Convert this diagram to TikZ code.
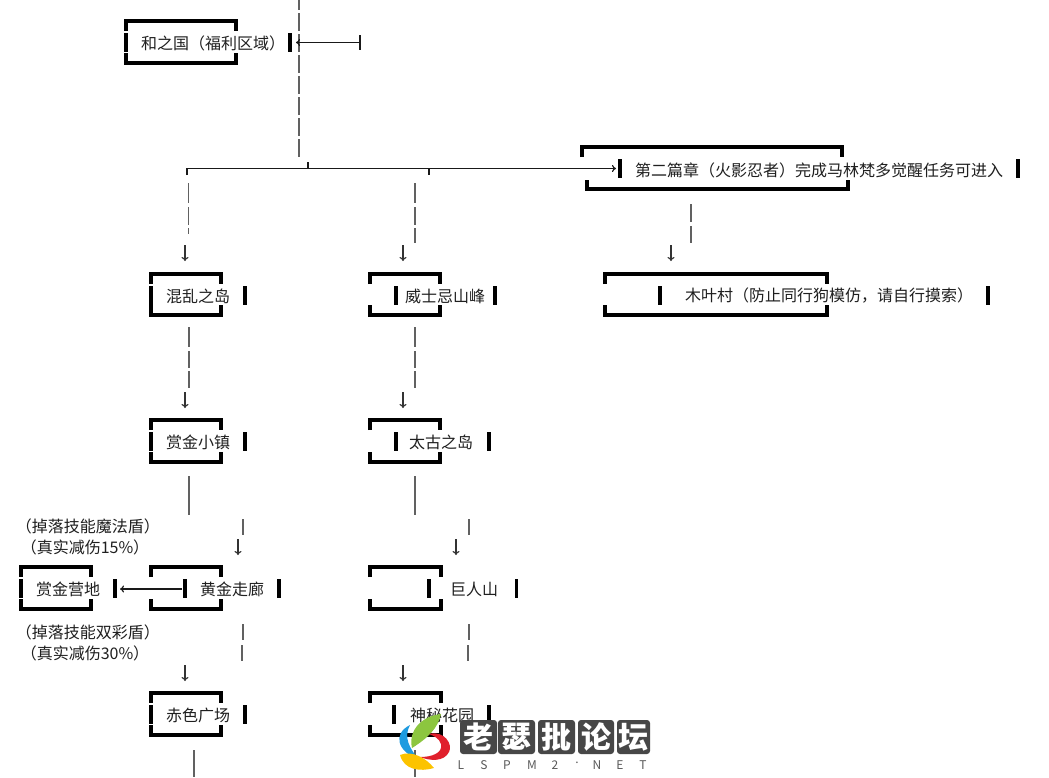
\documentclass[tikz,border=0pt]{standalone}
\usepackage{fontspec}
\setmainfont{Noto Sans CJK SC}
\usetikzlibrary{arrows.meta}
\definecolor{wgreen}{HTML}{8CC63F}
\definecolor{wblue}{HTML}{1E9BE0}
\definecolor{wred}{HTML}{E0202C}
\definecolor{wyellow}{HTML}{FCC300}
\tikzset{
  thick line/.style={line width=3.3pt,black,line cap=butt,line join=miter},
  gray seg/.style={line width=1.4pt,draw=black!62},
  link/.style={line width=1.15pt,draw=black!90},
  down tip/.style={line width=1.15pt,draw=black!80,-{To[length=4pt,width=7pt]}},
  lbl/.style={inner sep=0pt,font=\fontsize{16}{16}\selectfont,text=black!88},
  badge/.style={fill=black!72,rounded corners=3pt,draw=none},
  badgetext/.style={inner sep=0pt,text=white,font=\fontsize{30}{30}\selectfont\bfseries},
  wm/.style={inner sep=0pt,text=black!65,font=\fontsize{12}{12}\selectfont},
}
% name, xl, xr, ytop, ybot, left tick x, right tick x, text x, text
\newcommand{\pbox}[9]{%
  \draw[thick line] (#2,#4+10) -- (#2,#4) -- (#3,#4) -- (#3,#4+10);
  \draw[thick line] (#2,#5-10) -- (#2,#5) -- (#3,#5) -- (#3,#5-10);
  \draw[thick line] (#6,#4+12) -- (#6,#4+31);
  \draw[thick line] (#7,#4+12) -- (#7,#4+31);
  \node[lbl,anchor=west] (#1) at (#8,#4+22) {#9};
}
\newcommand{\seg}[4]{% name x y1 y2
  \coordinate (#1a) at (#2,#3); \coordinate (#1b) at (#2,#4);
  \draw[gray seg] (#1a) -- (#1b);
}
\newcommand{\darr}[4]{%
  \coordinate (#1a) at (#2,#3); \coordinate (#1b) at (#2,#4);
  \draw[down tip] (#1a) -- (#1b);
}
\begin{document}
\begin{tikzpicture}[x=1pt,y=-1pt]
\useasboundingbox (0,0) rectangle (1049,777);
\clip (0,0) rectangle (1049,777);
\fill[white] (0,0) rectangle (1049,777);

% boxes
\pbox{hezhi}{126}{236}{21}{63}{126}{290}{141}{和之国（福利区域）}
\pbox{muye}{605}{827}{274}{315}{660}{988}{685}{木叶村（防止同行狗模仿，请自行摸索）}
\pbox{hunluan}{151}{221}{274}{315}{151}{245}{166}{混乱之岛}
\pbox{weishi}{370}{440}{274}{315}{396}{495}{405}{威士忌山峰}
\pbox{shangjin}{151}{221}{420}{462}{151}{245}{166}{赏金小镇}
\pbox{taigu}{370}{440}{420}{462}{396}{489}{409}{太古之岛}
\pbox{yingdi}{21}{91}{567}{609}{21}{115}{36}{赏金营地}
\pbox{huangjin}{151}{221}{567}{609}{185}{279}{200}{黄金走廊}
\pbox{juren}{370}{441}{567}{609}{429}{516.5}{450}{巨人山}
\pbox{chise}{151}{221}{693}{735}{151}{245}{166}{赤色广场}
\pbox{shenmi}{370}{441}{693}{735}{394}{489}{410}{神秘花园}
% the offset box of chapter two
\draw[thick line] (582,157) -- (582,147) -- (842,147) -- (842,157);
\draw[thick line] (587,180) -- (587,189) -- (848,189) -- (848,180);
\draw[thick line] (620,159) -- (620,178);
\draw[thick line] (1018,159) -- (1018,178);
\node[lbl,anchor=west] (dier) at (635,170) {第二篇章（火影忍者）完成马林梵多觉醒任务可进入};

% labels
\node[lbl] (drop1) at (88,526.5) {（掉落技能魔法盾）};
\node[lbl] (real1) at (85,547.5) {（真实减伤15\%）};
\node[lbl] (drop2) at (88,632.5) {（掉落技能双彩盾）};
\node[lbl] (real2) at (85,653.5) {（真实减伤30\%）};

% main dashed line
\coordinate (topa) at (299,-8); \coordinate (topb) at (299,158);
\draw[line width=1.4pt,draw=black!62,dash pattern=on 18pt off 3pt] (topa) -- (topb);

% side arrow into main line
\coordinate (sidea) at (360,42.5); \coordinate (sideb) at (296,42.5);
\draw[link,-{To[length=4pt,width=7pt]}] (sidea) -- (sideb);
\coordinate (sidec) at (360,35); \coordinate (sided) at (360,50);
\draw[link] (sidec) -- (sided);

% horizontal bus
\coordinate (busl) at (187,175); \coordinate (busr) at (616,168.5);
\draw[link,-{To[length=4pt,width=7pt]}] (busl) -- (187,168.5) -- (busr);
\coordinate (buspa) at (308,162); \coordinate (buspb) at (308,168.5);
\draw[link] (buspa) -- (buspb);
\coordinate (busqa) at (429,168.5); \coordinate (busqb) at (429,175);
\draw[link] (busqa) -- (busqb);

% column 1
\seg{a1}{188.5}{183}{203}\seg{a2}{188.5}{207}{225}\seg{a3}{188.5}{228}{234}
\darr{a4}{185}{245}{261}
\seg{b1}{189}{327}{347}\seg{b2}{189}{351}{368}\seg{b3}{189}{371}{388}
\darr{b4}{185}{392}{408}
\seg{c1}{189}{476}{515}
\seg{c2}{243}{519}{535}
\darr{c3}{238}{539}{555}
\seg{d1}{243}{624}{640}\seg{d2}{242}{645}{661}
\darr{d3}{185}{665}{681}
\seg{e1}{194}{750}{777}

% column 2
\seg{f1}{415}{183}{203}\seg{f2}{415}{207}{225}\seg{f3}{415}{228}{243}
\darr{f4}{403}{245}{261}
\seg{g1}{415}{327}{347}\seg{g2}{415}{351}{368}\seg{g3}{415}{371}{388}
\darr{g4}{403}{392}{408}
\seg{h1}{415}{476}{515}
\seg{h2}{469}{519}{535}
\darr{h3}{456}{539}{555}
\seg{i1}{469}{624}{640}\seg{i2}{468}{645}{661}
\darr{i3}{403}{665}{681}
\seg{j1}{415}{750}{777}

% column 3
\seg{k1}{691}{204}{222}\seg{k2}{691}{226}{243}
\darr{k3}{671}{245}{261}

% gold corridor -> bounty camp
\coordinate (gca) at (182,589); \coordinate (gcb) at (120,589);
\draw[link,-{To[length=4pt,width=7pt]}] (gca) -- (gcb);

% watermark logo
\fill[wgreen] (412,748) .. controls (408,730) and (422,716) .. (441,714) .. controls (438,728) and (428,738) .. (412,748) -- cycle;
\fill[wblue] (418,759) .. controls (398,752) and (392,734) .. (410,725) .. controls (403,738) and (410,748) .. (418,759) -- cycle;
\fill[wred] (429,734) .. controls (445,730) and (453,745) .. (449,752) .. controls (444,762) and (430,761) .. (420,757) .. controls (432,757) and (443,753) .. (441,744) .. controls (439,738) and (434,736) .. (429,734) -- cycle;
\fill[wyellow] (400,755) .. controls (412,750) and (426,758) .. (434,768) .. controls (420,772) and (404,770) .. (400,755) -- cycle;

% watermark badges
\foreach \nm/\xa/\xb/\ch in {wa/460/497/老,wb/498/535/瑟,wc/538/575/批,wd/578/614/论,we/617/650/坛}{
  \fill[badge] (\xa,720) rectangle (\xb,754);
  \node[badgetext] (\nm) at ({(\xa+\xb)/2},737) {\ch};
}
\foreach \nm/\xx/\ch in {la/461/L,lb/484/S,lc/507/P,ld/532/M,le/555/2,lg/597/N,lh/620/E,li/643/T}{
  \node[wm] (\nm) at (\xx,765) {\ch};
}
\node[wm] (lf) at (577,763) {.};
\end{tikzpicture}
\end{document}
